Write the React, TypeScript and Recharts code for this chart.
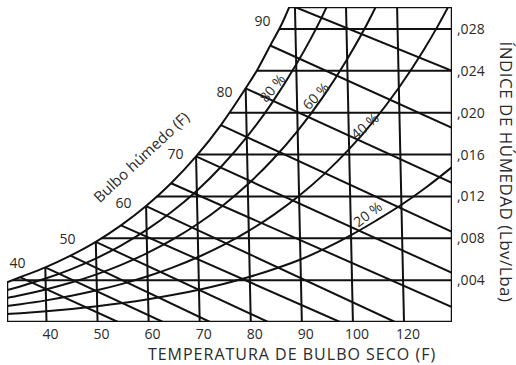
import React from "react"
import { ComposedChart, Line, Scatter, XAxis, YAxis, Label } from "recharts"

// Temperatura de bulbo seco (°F) en el eje X, índice de humedad (Lbv/Lba) en el eje Y
const X_DOMAIN = [32.27, 119.4]
const Y_DOMAIN = [0, 0.0301]

const DRY_TICKS = [40, 50, 60, 70, 80, 90, 100, 110]
const DRY_TICK_LABELS = ["40", "50", "60", "70", "80", "90", "100", "120"]
const HUM_TICKS = [0.004, 0.008, 0.012, 0.016, 0.02, 0.024, 0.028]
const HUM_TICK_LABELS = [",004", ",008", ",012", ",016", ",020", ",024", ",028"]

// curvas de humedad relativa [t, w]
const SATURACION = [
  [32.27, 0.0038], [34.81, 0.00428], [39.77, 0.00522], [44.71, 0.00634], [49.66, 0.00766],
  [54.58, 0.00923], [59.5, 0.01108], [64.4, 0.01326], [69.29, 0.01582], [74.15, 0.01882],
  [79.0, 0.02233], [81.41, 0.02421], [83.81, 0.02642], [86.21, 0.02862], [87.54, 0.0301],
]
const HR_80 = [
  [32.27, 0.00305], [34.85, 0.0034], [39.81, 0.00415], [44.77, 0.005035], [49.73, 0.006086],
  [54.67, 0.007331], [59.6, 0.008799], [64.53, 0.010528], [69.44, 0.012548], [74.33, 0.014909],
  [79.21, 0.017663], [84.06, 0.020871], [88.89, 0.024595], [93.7, 0.028923], [94.85, 0.0301],
]
const HR_60 = [
  [32.27, 0.00229], [34.89, 0.002547], [39.86, 0.003106], [44.83, 0.003768], [49.8, 0.004553],
  [54.75, 0.005482], [59.7, 0.006578], [64.65, 0.007861], [69.58, 0.009362], [74.5, 0.011115],
  [79.41, 0.013155], [84.3, 0.015524], [89.18, 0.018267], [94.04, 0.021442], [98.87, 0.025107],
  [103.68, 0.029331], [104.45, 0.0301],
]
const HR_40 = [
  [32.27, 0.00152], [34.92, 0.001696], [39.91, 0.002067], [44.89, 0.002507], [49.86, 0.003028],
  [54.84, 0.003644], [59.8, 0.00437], [64.77, 0.005219], [69.72, 0.00621], [74.67, 0.007366],
  [79.61, 0.008709], [84.54, 0.010263], [89.46, 0.01206], [94.36, 0.014132], [99.26, 0.016515],
  [104.13, 0.019252], [108.99, 0.022385], [113.83, 0.02597], [116.72, 0.028369], [118.65, 0.0301],
]
const HR_20 = [
  [32.27, 0.00076], [34.96, 0.000847], [39.95, 0.001032], [44.94, 0.001251], [49.93, 0.00151],
  [54.92, 0.001817], [59.9, 0.002177], [64.88, 0.002599], [69.86, 0.00309], [74.84, 0.003661],
  [79.81, 0.004324], [84.77, 0.00509], [89.73, 0.005972], [94.69, 0.00705], [99.63, 0.0083],
  [104.57, 0.0097], [109.51, 0.0112], [114.43, 0.0129], [119.4, 0.0148],
]

// líneas de bulbo húmedo: [t0, w0, t1, w1]
const BULBO_HUMEDO = [
  [34.81, 0.00428, 54.0, 0], [39.77, 0.00522, 62.82, 0], [44.71, 0.00634, 72.02, 0],
  [49.66, 0.00766, 83.38, 0], [54.58, 0.00923, 97.47, 0], [59.5, 0.01108, 108.24, 0],
  [64.4, 0.01326, 119.4, 0.001435], [69.29, 0.01582, 119.4, 0.004687],
  [74.15, 0.01882, 119.4, 0.008608], [79.0, 0.02233, 119.4, 0.013295],
  [83.81, 0.02642, 119.4, 0.018556], [88.66, 0.0301, 119.4, 0.024008],
]

// líneas de bulbo seco: base en w=0, extremo superior
const BULBO_SECO_BASE = [40, 50, 60, 70, 80, 90, 100, 110]
const BULBO_SECO_TOPE = [
  [39.77, 0.00522], [49.66, 0.00766], [59.5, 0.01108], [69.29, 0.01582],
  [79.0, 0.02233], [88.65, 0.0301], [98.65, 0.0301], [108.65, 0.0301],
]

// líneas de humedad constante: valor y punto de arranque sobre la saturación
const HUMEDAD_VALORES = [0.004, 0.008, 0.012, 0.016, 0.02, 0.024, 0.028]
const HUMEDAD_INICIO = [33.33, 50.73, 61.57, 69.58, 75.78, 81.14, 85.53]

const BORDE = [[32.27, 0.0038], [32.27, 0], [119.4, 0], [119.4, 0.0301], [87.54, 0.0301]]

// rótulos
const BH_TEXTOS = ["40", "50", "60", "70", "80", "90"]
const BH_POS = [[34.33, 0.005643], [44.12, 0.007939], [55.08, 0.011382], [65.26, 0.016069], [74.86, 0.021999], [82.3, 0.02879]]
const HR_TEXTOS = ["80 %", "60 %", "40 %", "20 %"]
const HR_POS = [[84.16, 0.022382], [92.68, 0.021616], [102.27, 0.018747], [102.86, 0.01033]]
const HR_GIRO = [-50, -46, -41, -37]
const TITULO_BH = "Bulbo húmedo (F)"
const TITULO_BH_POS = [58.5, 0.0158]

const NEGRO = "#111"
const TEXTO = "#2a2a2a"
const FUENTE = "'Open Sans', 'DejaVu Sans', sans-serif"

const aPuntos = (arr: number[][]) => arr.map(([t, w]) => ({ t, w }))

const rotulos = [
  ...BH_TEXTOS.map((txt, i) => ({ t: BH_POS[i][0], w: BH_POS[i][1], txt, giro: 0, size: 14 })),
  ...HR_TEXTOS.map((txt, i) => ({ t: HR_POS[i][0], w: HR_POS[i][1], txt, giro: HR_GIRO[i], size: 14 })),
  { t: TITULO_BH_POS[0], w: TITULO_BH_POS[1], txt: TITULO_BH, giro: -43, size: 15 },
]

function Rotulo(props: any) {
  const { cx, cy, payload } = props
  return (
    <g transform={`translate(${cx} ${cy}) rotate(${payload.giro})`}>
      <text
        x={0} y={0}
        textAnchor="middle" dominantBaseline="central"
        fontFamily={FUENTE} fontSize={payload.size} fill={TEXTO}
      >
        {payload.txt}
      </text>
    </g>
  )
}

const lineaProps = {
  type: "linear" as const,
  dataKey: "w",
  stroke: NEGRO,
  strokeWidth: 2,
  dot: false,
  activeDot: false,
  isAnimationActive: false,
}

export default function App() {
  return (
    <div style={{ position: "absolute", left: 0, top: 0, background: "#fff" }}>
      <ComposedChart width={516} height={365} margin={{ top: 7, right: 0, bottom: 0, left: 7 }}>
        <XAxis
          dataKey="t" type="number" domain={X_DOMAIN} allowDataOverflow ticks={DRY_TICKS}
          height={43} axisLine={false} tickLine={false} tickSize={0} tickMargin={0}
          tick={({ x, y, payload }: any) => (
            <text x={x + 4} y={y + 16.5} textAnchor="middle" fontFamily={FUENTE} fontSize={14} fill={TEXTO}>
              {DRY_TICK_LABELS[DRY_TICKS.indexOf(payload.value)]}
            </text>
          )}
        >
          <Label
            content={() => (
              <text
                x={292} y={360} textAnchor="middle" fontFamily={FUENTE} fontSize={16}
                letterSpacing={1} fill={TEXTO}
              >
                TEMPERATURA DE BULBO SECO (F)
              </text>
            )}
          />
        </XAxis>
        <YAxis
          dataKey="w" orientation="right" type="number" domain={Y_DOMAIN} allowDataOverflow ticks={HUM_TICKS}
          width={64} axisLine={false} tickLine={false} tickSize={0} tickMargin={0}
          tick={({ x, y, payload }: any) => (
            <text x={x + 5} y={y + 5} textAnchor="start" fontFamily={FUENTE} fontSize={14} fill={TEXTO}>
              {HUM_TICK_LABELS[HUM_TICKS.indexOf(payload.value)]}
            </text>
          )}
        >
          <Label
            content={() => (
              <g transform="translate(506 172) rotate(90)">
                <text
                  x={0} y={0} textAnchor="middle" dominantBaseline="central"
                  fontFamily={FUENTE} fontSize={17} letterSpacing={0.5} fill={TEXTO}
                >
                  ÍNDICE DE HÚMEDAD (Lbv/Lba)
                </text>
              </g>
            )}
          />
        </YAxis>

        {HUMEDAD_VALORES.map((w, i) => (
          <Line key={`h${i}`} {...lineaProps} data={[{ t: HUMEDAD_INICIO[i], w }, { t: X_DOMAIN[1], w }]} />
        ))}
        {BULBO_SECO_BASE.map((t, i) => (
          <Line key={`s${i}`} {...lineaProps} data={[{ t, w: 0 }, { t: BULBO_SECO_TOPE[i][0], w: BULBO_SECO_TOPE[i][1] }]} />
        ))}
        {BULBO_HUMEDO.map(([t0, w0, t1, w1], i) => (
          <Line key={`b${i}`} {...lineaProps} data={[{ t: t0, w: w0 }, { t: t1, w: w1 }]} />
        ))}
        {[HR_80, HR_60, HR_40, HR_20].map((c, i) => (
          <Line key={`r${i}`} {...lineaProps} type="monotone" data={aPuntos(c)} />
        ))}
        <Line {...lineaProps} type="monotone" data={aPuntos(SATURACION)} />
        <Line {...lineaProps} strokeWidth={2.5} data={aPuntos(BORDE)} />

        <Scatter data={rotulos} dataKey="w" shape={Rotulo} isAnimationActive={false} />
      </ComposedChart>
    </div>
  )
}
